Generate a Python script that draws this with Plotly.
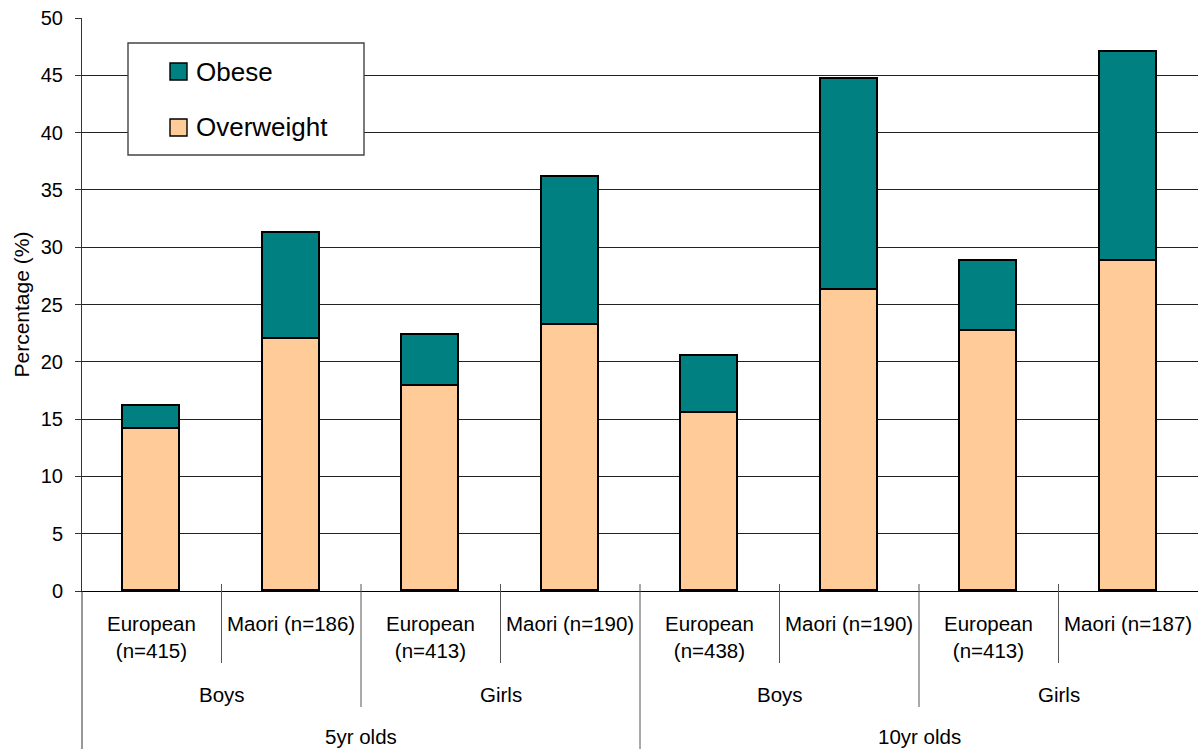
import plotly.graph_objects as go

# Prevalence of overweight and obesity by age, sex and ethnicity (%)
age_groups = ["5yr olds", "10yr olds"]
sex_groups = ["Boys", "Girls"]
ethnic_labels = [
    "European<br>(n=415)", "Maori (n=186)",
    "European<br>(n=413)", "Maori (n=190)",
    "European<br>(n=438)", "Maori (n=190)",
    "European<br>(n=413)", "Maori (n=187)",
]
overweight = [14.1, 22.0, 17.9, 23.2, 15.5, 26.3, 22.7, 28.8]
obese = [2.0, 9.2, 4.4, 12.9, 5.0, 18.4, 6.1, 18.2]

y_ticks = list(range(0, 51, 5))

W, H = 1198, 749
L, R, T, B = 82, 0, 18, 158
plot_w = W - L - R
plot_h = H - T - B
FONT = "Liberation Sans, Arial, sans-serif"
OVER_COL = "#FFCC99"
OBESE_COL = "#008080"
LABEL_SIZE = 20.5


def px_x(x):
    return (x - L) / plot_w


def px_y(y):
    return (H - B - y) / plot_h


xs = list(range(len(ethnic_labels)))

fig = go.Figure()
fig.add_trace(go.Bar(
    x=xs, y=overweight, name="Overweight", width=0.41,
    marker=dict(color=OVER_COL, line=dict(color="black", width=1.6)),
    showlegend=False, hoverinfo="y",
))
fig.add_trace(go.Bar(
    x=xs, y=obese, name="Obese", width=0.41,
    marker=dict(color=OBESE_COL, line=dict(color="black", width=1.6)),
    showlegend=False, hoverinfo="y",
))

shapes = []
annotations = []

# left axis continues down through the category label rows
shapes.append(dict(type="line", xref="paper", yref="paper",
                   x0=0, x1=0, y0=0, y1=px_y(H),
                   line=dict(color="#333", width=1)))

# category dividers: within a sex group, between sex groups, between age groups
n_per_sex = 2
n_per_age = n_per_sex * len(sex_groups)
for i in range(1, len(ethnic_labels)):
    if i % n_per_age == 0:
        bottom = H
    elif i % n_per_sex == 0:
        bottom = 707
    else:
        bottom = 663
    shapes.append(dict(type="line", xref="x", yref="paper",
                       x0=i - 0.5, x1=i - 0.5, y0=px_y(584), y1=px_y(bottom),
                       line=dict(color="#555", width=1)))

# first label row: ethnicity and sample size
for i, lab in enumerate(ethnic_labels):
    two_line = "<br>" in lab
    annotations.append(dict(
        xref="x", yref="paper", x=i, y=px_y(637 if two_line else 623),
        text=lab, showarrow=False, xanchor="center", yanchor="middle",
        font=dict(family=FONT, size=LABEL_SIZE, color="black"),
    ))

# second row: sex
for a in range(len(age_groups)):
    for s, sex in enumerate(sex_groups):
        start = a * n_per_age + s * n_per_sex
        annotations.append(dict(
            xref="x", yref="paper", x=start + (n_per_sex - 1) / 2, y=px_y(694),
            text=sex, showarrow=False, xanchor="center", yanchor="middle",
            font=dict(family=FONT, size=LABEL_SIZE, color="black"),
        ))

# third row: age
for a, age in enumerate(age_groups):
    start = a * n_per_age
    annotations.append(dict(
        xref="x", yref="paper", x=start + (n_per_age - 1) / 2, y=px_y(736),
        text=age, showarrow=False, xanchor="center", yanchor="middle",
        font=dict(family=FONT, size=LABEL_SIZE, color="black"),
    ))

# y-axis title
annotations.append(dict(
    xref="paper", yref="paper", x=px_x(21), y=0.5,
    text="Percentage (%)", textangle=-90, showarrow=False,
    xanchor="center", yanchor="middle",
    font=dict(family=FONT, size=21, color="black"),
))

# legend box
shapes.append(dict(type="rect", xref="paper", yref="paper",
                   x0=px_x(128), x1=px_x(364), y0=px_y(155), y1=px_y(43),
                   fillcolor="white", line=dict(color="#444", width=1.4),
                   layer="above"))
legend_items = [("Obese", OBESE_COL, 71.5), ("Overweight", OVER_COL, 127.5)]
for name, col, cy in legend_items:
    shapes.append(dict(type="rect", xref="paper", yref="paper",
                       x0=px_x(170), x1=px_x(187), y0=px_y(cy + 8.5), y1=px_y(cy - 8.5),
                       fillcolor=col, line=dict(color="black", width=1.4),
                       layer="above"))
    annotations.append(dict(
        xref="paper", yref="paper", x=px_x(194), y=px_y(cy),
        text=name, showarrow=False, xanchor="left", yanchor="middle",
        font=dict(family=FONT, size=26, color="black"),
    ))

fig.update_layout(
    width=W, height=H,
    margin=dict(l=L, r=R, t=T, b=B, pad=0),
    barmode="stack",
    bargap=0,
    plot_bgcolor="white",
    paper_bgcolor="white",
    font=dict(family=FONT, size=20, color="black"),
    shapes=shapes,
    annotations=annotations,
    showlegend=False,
    xaxis=dict(
        range=[-0.5, len(ethnic_labels) - 0.5],
        showticklabels=False, ticks="", showgrid=False, zeroline=False,
        showline=True, linecolor="black", linewidth=1.2,
        fixedrange=True,
    ),
    yaxis=dict(
        range=[0, 50], tickvals=y_ticks,
        ticks="outside", ticklen=6, tickcolor="#333", tickwidth=1,
        showline=True, linecolor="#333", linewidth=1,
        showgrid=True, gridcolor="#222", gridwidth=1,
        zeroline=False,
        tickfont=dict(family=FONT, size=20, color="black"),
        ticklabelstandoff=8,
        fixedrange=True,
    ),
)

fig.write_html("out.html", config={"displayModeBar": False})
